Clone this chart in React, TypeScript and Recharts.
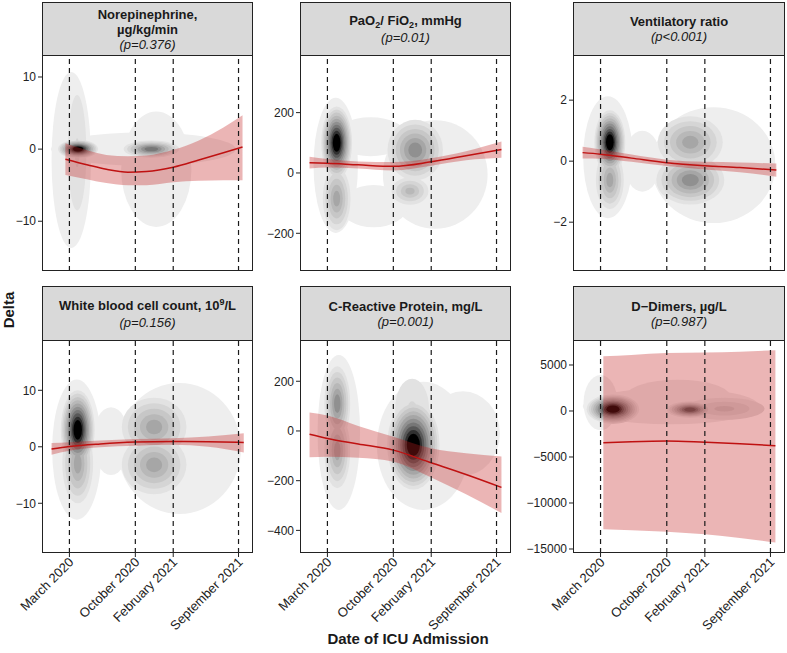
import React from "react";
import {
  ComposedChart,
  Area,
  Line,
  XAxis,
  YAxis,
  ReferenceLine,
  ReferenceArea,
} from "recharts";

const FONT = "'Liberation Sans', Arial, Helvetica, sans-serif";

// x is days since 1 March 2020
const dateTicks = [0, 214, 337, 549];
const dateLabels = ["March 2020", "October 2020", "February 2021", "September 2021"];
const xDomain = [-89, 596];

// grey levels of the 2d density, light -> dark
const greys = [
  "#eeeeee", "#e2e2e2", "#d5d5d5", "#c7c7c7", "#b8b8b8", "#a6a6a6",
  "#909090", "#777777", "#585858", "#303030", "#000000",
];

// density clusters: [x, y, rx, ry, fromLevel, toLevel]
type Blob = number[];

// Norepinephrine
const neDays = [-13, 60, 120, 190, 250, 337, 420, 500, 562];
const neFit = [-1.4, -2.2, -2.8, -3.2, -3.1, -2.5, -1.5, -0.5, 0.3];
const neUpper = [0.8, -0.2, -0.8, -1.0, -0.9, -0.1, 1.2, 3.0, 4.7];
const neLower = [-3.6, -4.2, -4.7, -5.0, -5.0, -4.6, -4.4, -4.3, -4.3];
const neTicks = [-10, 0, 10];
const neBlobs: Blob[] = [
  [6, -1.5, 64, 12.2, 1, 1],
  [240, 0, 300, 2.3, 1, 1],
  [282, -2.8, 114, 8, 1, 1],
  [25, -0.5, 30, 8, 2, 3],
  [28, 0, 65, 1.3, 2, 11],
  [266, 0, 90, 1.2, 2, 8],
];

// PaO2 / FiO2
const pfDays = [-58, 0, 100, 214, 337, 450, 565];
const pfFit = [34, 32, 27, 22, 37, 57, 78];
const pfUpper = [54, 46, 38, 36, 49, 72, 104];
const pfLower = [15, 18, 15, 8, 24, 42, 50];
const pfTicks = [-200, 0, 200];
const pfBlobs: Blob[] = [
  [27, 25, 72, 224, 1, 1],
  [350, -5, 170, 180, 1, 1],
  [140, 120, 120, 65, 1, 1],
  [150, -110, 110, 70, 1, 1],
  [30, 100, 50, 120, 2, 11],
  [30, -85, 45, 105, 2, 6],
  [285, 76, 90, 100, 2, 7],
  [268, -60, 60, 45, 2, 5],
];

// Ventilatory ratio
const vrDays = [-58, 0, 100, 214, 337, 450, 568];
const vrFit = [0.28, 0.23, 0.1, -0.05, -0.15, -0.21, -0.29];
const vrUpper = [0.47, 0.38, 0.22, 0.05, -0.02, -0.04, -0.08];
const vrLower = [0.09, 0.08, -0.02, -0.16, -0.27, -0.36, -0.51];
const vrTicks = [-2, 0, 2];
const vrBlobs: Blob[] = [
  [24, 0.13, 80, 2.0, 1, 1],
  [365, -0.13, 200, 1.9, 1, 1],
  [135, 0, 60, 1.0, 1, 1],
  [30, 0.62, 50, 1.05, 2, 11],
  [30, -0.62, 45, 0.95, 2, 6],
  [290, 0.62, 105, 0.85, 2, 6],
  [290, -0.62, 110, 0.8, 2, 7],
];

// White blood cell count
const wbDays = [-58, 0, 100, 214, 337, 450, 566];
const wbFit = [-0.4, 0.05, 0.5, 0.83, 0.94, 0.9, 0.77];
const wbUpper = [0.65, 0.8, 1.1, 1.36, 1.53, 1.8, 2.4];
const wbLower = [-1.4, -0.7, -0.1, 0.18, 0.35, 0.0, -1.0];
const wbTicks = [-10, 0, 10];
const wbBlobs: Blob[] = [
  [24, -0.5, 80, 12.4, 1, 1],
  [357, -0.3, 200, 11.6, 1, 1],
  [135, 1, 60, 6, 1, 1],
  [27, 3, 55, 7, 2, 11],
  [27, -3, 50, 7, 2, 6],
  [275, 3.5, 105, 5.2, 2, 6],
  [275, -3.2, 105, 5.2, 2, 6],
];

// C-Reactive Protein
const crDays = [-58, 0, 100, 214, 337, 450, 565];
const crFit = [-13, -30, -52, -77, -128, -175, -227];
const crUpper = [74, 62, 20, -23, -70, -90, -103];
const crLower = [-106, -104, -108, -124, -187, -255, -330];
const crTicks = [-400, -200, 0, 200];
const crBlobs: Blob[] = [
  [37, -6, 69, 312, 1, 1],
  [311, -60, 150, 258, 1, 1],
  [440, -10, 120, 170, 1, 1],
  [32, 110, 42, 150, 2, 7],
  [32, -80, 42, 150, 2, 6],
  [275, 90, 55, 120, 2, 3],
  [279, -56, 85, 180, 2, 11],
];

// D-Dimers
const ddDays = [9, 100, 214, 337, 450, 565];
const ddFit = [-3440, -3330, -3260, -3400, -3560, -3770];
const ddUpper = [5950, 6100, 6300, 6350, 6450, 6600];
const ddLower = [-12850, -12950, -13120, -13400, -13800, -14300];
const ddTicks = [-15000, -10000, -5000, 0, 5000];
const ddBlobs: Blob[] = [
  [0, 900, 55, 3000, 1, 1],
  [228, 525, 285, 1975, 1, 1],
  [250, 1500, 170, 1900, 1, 1],
  [40, 200, 85, 1600, 2, 11],
  [289, 150, 75, 900, 2, 9],
  [400, 250, 130, 1200, 2, 4],
];

const sub = (t: string) => (
  <span style={{ fontSize: 9, position: "relative", top: 3 }}>{t}</span>
);
const sup = (t: string) => (
  <span style={{ fontSize: 9, position: "relative", top: -5 }}>{t}</span>
);

const panels = [
  { row: 0, col: 0, title: <>Norepinephrine,<br />µg/kg/min</>, p: "(p=0.376)",
    days: neDays, fit: neFit, upper: neUpper, lower: neLower, yDomain: [-16.9, 13.05], yTicks: neTicks, blobs: neBlobs },
  { row: 0, col: 1, title: <>PaO{sub("2")}/ FiO{sub("2")}, mmHg</>, p: "(p=0.01)",
    days: pfDays, fit: pfFit, upper: pfUpper, lower: pfLower, yDomain: [-325, 391], yTicks: pfTicks, blobs: pfBlobs },
  { row: 0, col: 2, title: <>Ventilatory ratio</>, p: "(p<0.001)",
    days: vrDays, fit: vrFit, upper: vrUpper, lower: vrLower, yDomain: [-3.6, 3.48], yTicks: vrTicks, blobs: vrBlobs },
  { row: 1, col: 0, title: <>White blood cell count, 10{sup("9")}/L</>, p: "(p=0.156)",
    days: wbDays, fit: wbFit, upper: wbUpper, lower: wbLower, yDomain: [-18.8, 18.9], yTicks: wbTicks, blobs: wbBlobs },
  { row: 1, col: 1, title: <>C-Reactive Protein, mg/L</>, p: "(p=0.001)",
    days: crDays, fit: crFit, upper: crUpper, lower: crLower, yDomain: [-491, 366], yTicks: crTicks, blobs: crBlobs },
  { row: 1, col: 2, title: <>D{"\u2212"}Dimers, µg/L</>, p: "(p=0.987)",
    days: ddDays, fit: ddFit, upper: ddUpper, lower: ddLower, yDomain: [-15435, 7717], yTicks: ddTicks, blobs: ddBlobs },
];

const cols = [[42, 253], [300, 511], [573, 785]];
const rows = [
  { stripTop: 2, top: 55, bottom: 271 },
  { stripTop: 286, top: 340, bottom: 553 },
];
const Y_W = 50;
const X_H = 90;

// concentric contour rings, evenly spaced from the outer edge to a small core
function rings(blobs: Blob[]) {
  const out: { level: number; x1: number; x2: number; y1: number; y2: number }[] = [];
  blobs.forEach(([x, y, rx, ry, from, to]) => {
    const n = to - from + 1;
    for (let j = 0; j < n; j++) {
      const s = n === 1 ? 1 : 1 - (j * 0.75) / (n - 1);
      out.push({ level: from + j, x1: x - rx * s, x2: x + rx * s, y1: y - ry * s, y2: y + ry * s });
    }
  });
  return out.sort((a, b) => a.level - b.level);
}

const fmt = (v: number) => String(v).replace("-", "\u2212");

function DateTick(props: any) {
  const { x, y, payload } = props;
  const label = dateLabels[dateTicks.indexOf(payload.value)];
  const ax = x + 5;
  const ay = y + 4;
  return (
    <text
      x={ax}
      y={ay}
      textAnchor="end"
      fontSize={13}
      fill="#222"
      fontFamily={FONT}
      transform={`rotate(-45, ${ax}, ${ay})`}
    >
      {label}
    </text>
  );
}

function Panel({ cfg }: { cfg: (typeof panels)[number] }) {
  const [L, R] = cols[cfg.col];
  const r = rows[cfg.row];
  const bottomRow = cfg.row === 1;
  const plotH = r.bottom - r.top;
  const data = cfg.days.map((d, i) => ({
    day: d,
    fit: cfg.fit[i],
    band: [cfg.lower[i], cfg.upper[i]],
  }));
  const rs = rings(cfg.blobs);
  return (
    <>
      <div
        style={{
          position: "absolute",
          left: L,
          top: r.stripTop,
          width: R - L,
          height: r.top - r.stripTop + 1,
          boxSizing: "border-box",
          border: "1px solid #222",
          background: "#d9d9d9",
          display: "flex",
          flexDirection: "column",
          justifyContent: "center",
          alignItems: "center",
          textAlign: "center",
          fontSize: 13,
          lineHeight: "15px",
          color: "#1a1a1a",
        }}
      >
        <div style={{ fontWeight: "bold" }}>{cfg.title}</div>
        <div style={{ fontStyle: "italic" }}>{cfg.p}</div>
      </div>
      <div style={{ position: "absolute", left: L - Y_W, top: r.top }}>
        <ComposedChart
          width={R - L + Y_W + 1}
          height={plotH + (bottomRow ? X_H : 0)}
          data={data}
          margin={{ top: 0, right: 1, bottom: 0, left: 0 }}
        >
          <XAxis
            dataKey="day"
            type="number"
            domain={xDomain}
            allowDataOverflow
            ticks={dateTicks}
            interval={0}
            hide={!bottomRow}
            height={bottomRow ? X_H : 0}
            axisLine={false}
            tickSize={4}
            tickLine={{ stroke: "#222" }}
            tick={(p: any) => <DateTick {...p} />}
          />
          <YAxis
            type="number"
            domain={cfg.yDomain}
            allowDataOverflow
            ticks={cfg.yTicks}
            interval={0}
            width={Y_W}
            axisLine={false}
            tickSize={4}
            tickLine={{ stroke: "#222" }}
            tickFormatter={fmt}
            tick={{ fontSize: 12, fill: "#222", fontFamily: FONT }}
          />
          {rs.map((e, i) => (
            <ReferenceArea
              key={i}
              x1={e.x1}
              x2={e.x2}
              y1={e.y1}
              y2={e.y2}
              ifOverflow="hidden"
              shape={(p: any) => (
                <ellipse
                  cx={p.x + p.width / 2}
                  cy={p.y + p.height / 2}
                  rx={Math.abs(p.width) / 2}
                  ry={Math.abs(p.height) / 2}
                  fill={greys[Math.min(e.level, greys.length) - 1]}
                />
              )}
            />
          ))}
          <Area
            dataKey="band"
            type="monotone"
            fill="#c21f1f"
            fillOpacity={0.33}
            stroke="none"
            isAnimationActive={false}
          />
          <Line
            dataKey="fit"
            type="monotone"
            stroke="#bf1111"
            strokeWidth={1.5}
            dot={false}
            isAnimationActive={false}
          />
          {dateTicks.map((d) => (
            <ReferenceLine
              key={d}
              x={d}
              stroke="#1a1a1a"
              strokeWidth={1.2}
              strokeDasharray="5 4"
            />
          ))}
        </ComposedChart>
      </div>
      <div
        style={{
          position: "absolute",
          left: L,
          top: r.top,
          width: R - L,
          height: plotH,
          boxSizing: "border-box",
          border: "1px solid #222",
          pointerEvents: "none",
        }}
      />
    </>
  );
}

export default function App() {
  return (
    <div
      style={{
        position: "absolute",
        left: 0,
        top: 0,
        width: 787,
        height: 653,
        background: "#fff",
        fontFamily: FONT,
        overflow: "hidden",
      }}
    >
      {panels.map((p, i) => (
        <Panel key={i} cfg={p} />
      ))}
      <div
        style={{
          position: "absolute",
          left: 8,
          top: 310,
          transform: "translate(-50%, -50%) rotate(-90deg)",
          fontWeight: "bold",
          fontSize: 15,
          color: "#1a1a1a",
          whiteSpace: "nowrap",
        }}
      >
        Delta
      </div>
      <div
        style={{
          position: "absolute",
          left: 408,
          top: 638,
          transform: "translate(-50%, -50%)",
          fontWeight: "bold",
          fontSize: 15,
          color: "#1a1a1a",
          whiteSpace: "nowrap",
        }}
      >
        Date of ICU Admission
      </div>
    </div>
  );
}
